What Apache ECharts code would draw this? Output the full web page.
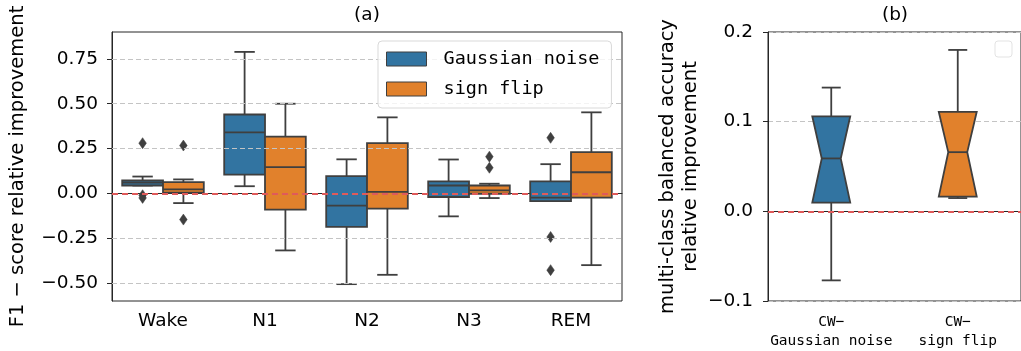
<!DOCTYPE html>
<html>
<head>
<meta charset="utf-8">
<script src="https://cdn.jsdelivr.net/npm/echarts@6/dist/echarts.min.js"></script>
<style>
  html, body { margin: 0; padding: 0; background: #fff; }
  #chart { width: 1021px; height: 351px; }
</style>
</head>
<body>
<div id="chart"></div>
<script>
// sleep stages on the left panel
var stages = ['Wake', 'N1', 'N2', 'N3', 'REM'];
var yTicksA = [-0.5, -0.25, 0, 0.25, 0.5, 0.75];

// [lower whisker, Q1, median, Q3, upper whisker]
var gaussianNoise = [
    [0.044, 0.044, 0.060, 0.072, 0.094],
    [0.040, 0.105, 0.340, 0.440, 0.789],
    [-0.506, -0.187, -0.068, 0.096, 0.190],
    [-0.128, -0.020, 0.044, 0.067, 0.189],
    [-0.043, -0.043, -0.024, 0.067, 0.163]
];
var signFlip = [
    [-0.054, 0.004, 0.022, 0.063, 0.078],
    [-0.318, -0.090, 0.146, 0.317, 0.500],
    [-0.454, -0.085, 0.009, 0.280, 0.424],
    [-0.026, -0.002, 0.017, 0.044, 0.054],
    [-0.400, -0.024, 0.118, 0.230, 0.452]
];
// [stage index, value]
var gaussianOutliers = [[0, 0.280], [0, -0.010], [0, -0.025], [4, 0.310], [4, -0.243], [4, -0.428]];
var signFlipOutliers = [[0, 0.267], [0, -0.146], [3, 0.205], [3, 0.143]];

// right panel
var cwLabels = ['CW\u2212\nGaussian noise', 'CW\u2212\nsign flip'];
var cwBoxes = [
    [-0.077, 0.0097, 0.059, 0.106, 0.138],
    [0.0148, 0.0164, 0.066, 0.111, 0.180]
];

var BLUE = '#3274a1', ORANGE = '#e1812c', EDGE = '#3f3f3f', SPINE = '#262626';
var RED = '#df5a5a', GREY = '#c4c4c4';
var FONT = 'DejaVu Sans', MONO = 'DejaVu Sans Mono';

function minusFmt(digits) {
    return function (v) {
        var s = Math.abs(v).toFixed(digits);
        return (v < -1e-9 ? '\u2212' : '') + s;
    };
}

function boxGroup(cx, halfW, ys, notch, color) {
    var line = { stroke: EDGE, lineWidth: 1.8 };
    var capW = halfW / 2;
    var kids = [
        { type: 'line', shape: { x1: cx, y1: ys[3], x2: cx, y2: ys[4] }, style: line },
        { type: 'line', shape: { x1: cx, y1: ys[1], x2: cx, y2: ys[0] }, style: line },
        { type: 'line', shape: { x1: cx - capW, y1: ys[4], x2: cx + capW, y2: ys[4] }, style: line },
        { type: 'line', shape: { x1: cx - capW, y1: ys[0], x2: cx + capW, y2: ys[0] }, style: line }
    ];
    if (notch) {
        var w2 = halfW / 2;
        kids.push({
            type: 'polygon',
            shape: { points: [[cx - halfW, ys[3]], [cx + halfW, ys[3]], [cx + w2, ys[2]],
                              [cx + halfW, ys[1]], [cx - halfW, ys[1]], [cx - w2, ys[2]]] },
            style: { fill: color, stroke: EDGE, lineWidth: 1.8 }
        });
        kids.push({ type: 'line', shape: { x1: cx - w2, y1: ys[2], x2: cx + w2, y2: ys[2] }, style: line });
    } else {
        kids.push({
            type: 'rect',
            shape: { x: cx - halfW, y: ys[3], width: halfW * 2, height: ys[1] - ys[3] },
            style: { fill: color, stroke: EDGE, lineWidth: 1.8 }
        });
        kids.push({ type: 'line', shape: { x1: cx - halfW, y1: ys[2], x2: cx + halfW, y2: ys[2] }, style: line });
    }
    return { type: 'group', children: kids };
}

function boxRender(offset, widthFrac, notch, colorFn) {
    return function (params, api) {
        var cat = api.value(0);
        var band = api.size([1, 0])[0];
        var cx = api.coord([cat, 0])[0] + offset * band;
        var ys = [];
        for (var i = 1; i <= 5; i++) ys.push(api.coord([cat, api.value(i)])[1]);
        return boxGroup(cx, widthFrac * band / 2, ys, notch, colorFn(params.dataIndex));
    };
}

function outlierRender(offset) {
    return function (params, api) {
        var band = api.size([1, 0])[0];
        var p = api.coord([api.value(0), api.value(1)]);
        var cx = p[0] + offset * band, cy = p[1];
        return {
            type: 'polygon',
            shape: { points: [[cx, cy - 5.5], [cx + 3.8, cy], [cx, cy + 5.5], [cx - 3.8, cy]] },
            style: { fill: EDGE, stroke: EDGE, lineWidth: 0.5 }
        };
    };
}

function withIndex(rows) {
    return rows.map(function (r, i) { return [i].concat(r); });
}

function zeroLine(axisIndex) {
    return {
        type: 'line', xAxisIndex: axisIndex, yAxisIndex: axisIndex, data: [], z: 5, silent: true,
        markLine: {
            symbol: 'none', silent: true, animation: false, label: { show: false },
            lineStyle: { color: RED, width: 2, type: [6, 4] },
            data: [{ yAxis: 0 }]
        }
    };
}

var chart = echarts.init(document.getElementById('chart'));

var titleStyle = { fontFamily: FONT, fontSize: 18.5, fontWeight: 'normal', color: '#000' };

var option = {
    animation: false,
    backgroundColor: '#fff',
    title: [
        { text: '(a)', left: 367, top: 6, textAlign: 'center', padding: 0, textStyle: titleStyle },
        { text: '(b)', left: 895, top: 6, textAlign: 'center', padding: 0, textStyle: titleStyle }
    ],
    legend: {
        data: [
            { name: 'Gaussian noise', itemStyle: { color: BLUE, borderColor: EDGE, borderWidth: 1, opacity: 1 } },
            { name: 'sign flip', itemStyle: { color: ORANGE, borderColor: EDGE, borderWidth: 1, opacity: 1 } }
        ],
        orient: 'vertical',
        left: 378, top: 41, z: 10,
        icon: 'rect',
        itemWidth: 40, itemHeight: 14, itemGap: 10,
        padding: [8, 12, 9, 8],
        backgroundColor: 'rgba(255,255,255,0.8)',
        borderColor: '#d9d9d9', borderWidth: 1, borderRadius: 4,
        textStyle: { fontFamily: MONO, fontSize: 18.5, lineHeight: 20, color: '#000', padding: [0, 0, 0, 12] }
    },
    graphic: [{
        type: 'rect',
        shape: { x: 995, y: 41, width: 17, height: 16, r: 3 },
        style: { fill: '#fff', stroke: '#e3e3e3', lineWidth: 1 }
    }],
    grid: [
        { left: 112, top: 32, width: 510, height: 269, show: true, borderColor: SPINE, borderWidth: 1, backgroundColor: 'transparent' },
        { left: 768, top: 32, width: 256, height: 269, show: true, borderColor: SPINE, borderWidth: 1, backgroundColor: 'transparent' }
    ],
    xAxis: [
        {
            gridIndex: 0, type: 'category', data: stages, boundaryGap: true,
            axisLine: { lineStyle: { color: SPINE, width: 1 } },
            axisTick: { alignWithLabel: true, length: 5, lineStyle: { color: SPINE } },
            axisLabel: { interval: 0, fontFamily: FONT, fontSize: 18.5, color: '#000', margin: 11 },
            splitLine: { show: false }
        },
        {
            gridIndex: 1, type: 'category', data: cwLabels, boundaryGap: true,
            axisLine: { lineStyle: { color: SPINE, width: 1 } },
            axisTick: { alignWithLabel: true, interval: 0, length: 5, lineStyle: { color: SPINE } },
            axisLabel: { interval: 0, fontFamily: MONO, fontSize: 14.5, lineHeight: 18.5, color: '#000', margin: 12 },
            splitLine: { show: false }
        }
    ],
    yAxis: [
        {
            gridIndex: 0, type: 'value', min: -0.6, max: 0.9,
            name: 'F1 \u2212 score relative improvement',
            nameLocation: 'middle', nameGap: 84, nameRotate: 90,
            nameTextStyle: { fontFamily: FONT, fontSize: 19.5, color: '#000' },
            axisLine: { show: true, lineStyle: { color: SPINE, width: 1 } },
            axisTick: { show: true, length: 5, customValues: yTicksA, lineStyle: { color: SPINE } },
            axisLabel: { customValues: yTicksA, formatter: minusFmt(2), fontFamily: FONT, fontSize: 18.5, color: '#000', margin: 14 },
            splitLine: { show: false }
        },
        {
            gridIndex: 1, type: 'value', min: -0.1, max: 0.2, interval: 0.1,
            name: 'multi-class balanced accuracy\nrelative improvement',
            nameLocation: 'middle', nameGap: 66, nameRotate: 90,
            nameTextStyle: { fontFamily: FONT, fontSize: 19.5, lineHeight: 23, color: '#000' },
            axisLine: { show: true, lineStyle: { color: SPINE, width: 1 } },
            axisTick: { show: true, length: 5, lineStyle: { color: SPINE } },
            axisLabel: { formatter: minusFmt(1), fontFamily: FONT, fontSize: 18.5, color: '#000', margin: 15 },
            splitLine: { show: true, lineStyle: { color: GREY, width: 1, type: [5, 3] } }
        }
    ],
    series: [
        {
            // grey dashed grid lines, panel (a)
            type: 'line', xAxisIndex: 0, yAxisIndex: 0, data: [], z: 1, silent: true,
            markLine: {
                symbol: 'none', silent: true, animation: false, label: { show: false },
                lineStyle: { color: GREY, width: 1, type: [5, 3] },
                data: yTicksA.filter(function (v) { return v !== 0; }).map(function (v) { return { yAxis: v }; })
            }
        },
        {
            name: 'Gaussian noise', type: 'custom', xAxisIndex: 0, yAxisIndex: 0, z: 2,
            itemStyle: { color: BLUE },
            renderItem: boxRender(-0.2, 0.4, false, function () { return BLUE; }),
            encode: { x: 0, y: [1, 2, 3, 4, 5] },
            data: withIndex(gaussianNoise)
        },
        {
            name: 'sign flip', type: 'custom', xAxisIndex: 0, yAxisIndex: 0, z: 2,
            itemStyle: { color: ORANGE },
            renderItem: boxRender(0.2, 0.4, false, function () { return ORANGE; }),
            encode: { x: 0, y: [1, 2, 3, 4, 5] },
            data: withIndex(signFlip)
        },
        {
            type: 'custom', xAxisIndex: 0, yAxisIndex: 0, z: 2,
            renderItem: outlierRender(-0.2),
            encode: { x: 0, y: 1 },
            data: gaussianOutliers
        },
        {
            type: 'custom', xAxisIndex: 0, yAxisIndex: 0, z: 2,
            renderItem: outlierRender(0.2),
            encode: { x: 0, y: 1 },
            data: signFlipOutliers
        },
        zeroLine(0),
        {
            type: 'custom', xAxisIndex: 1, yAxisIndex: 1, z: 2,
            renderItem: boxRender(0, 0.3, true, function (i) { return i === 0 ? BLUE : ORANGE; }),
            encode: { x: 0, y: [1, 2, 3, 4, 5] },
            data: withIndex(cwBoxes)
        },
        zeroLine(1)
    ]
};

chart.setOption(option);
window.addEventListener('resize', chart.resize);
</script>
</body>
</html>
